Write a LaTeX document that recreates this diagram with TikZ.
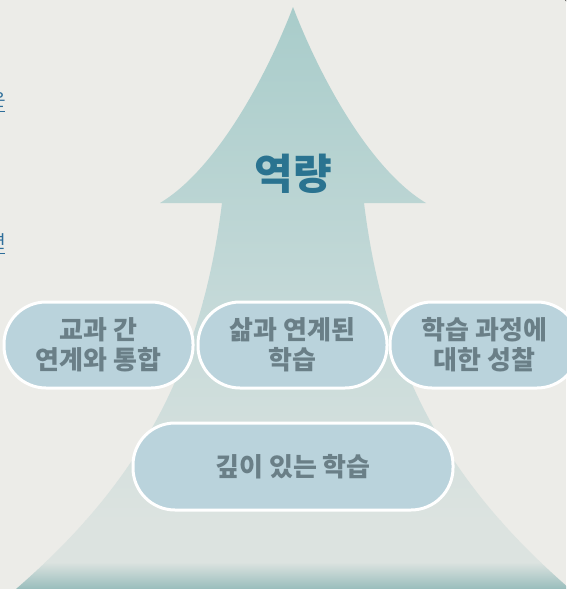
\documentclass[tikz,border=0pt]{standalone}
\usepackage{fontspec}
\setmainfont{Noto Sans CJK KR}
\definecolor{bgc}{HTML}{ECECE8}
\definecolor{ca}{HTML}{A8CCCA}
\definecolor{cb}{HTML}{C4D9D8}
\definecolor{cc}{HTML}{DCE3E0}
\definecolor{cd}{HTML}{99BDBC}
\definecolor{pillc}{HTML}{BAD3DC}
\definecolor{pilltext}{HTML}{6A7F87}
\definecolor{titlec}{HTML}{2A7390}
\definecolor{linkc}{HTML}{2E6E9A}
\begin{document}
\begin{tikzpicture}[x=1pt,y=-1pt,
  pill/.style={draw=white, line width=3pt, fill=pillc, rounded corners=42pt,
    minimum width=189pt, minimum height=86pt, text=pilltext, inner sep=0pt,
    font=\fontsize{26}{30}\selectfont\bfseries, align=center},
  frag/.style={text=linkc, font=\fontsize{18}{18}\selectfont, inner sep=0pt, anchor=base east}]
\useasboundingbox (0,0) rectangle (566,589);
\fill[bgc] (0,0) rectangle (566,589);
% arrow
\begin{scope}
\clip (293,7) .. controls (265,80) and (215,170) .. (160,203) -- (222,203)
  .. controls (200,380) and (130,490) .. (16,589) -- (570,589)
  .. controls (456,490) and (386,380) .. (364,203) -- (426,203)
  .. controls (371,170) and (321,80) .. (293,7) -- cycle;
\shade[top color=ca, bottom color=cb] (0,0) rectangle (566,301);
\shade[top color=cb, bottom color=cc] (0,300) rectangle (566,521);
\fill[cc] (0,520) rectangle (566,563);
\shade[top color=cc, bottom color=cd] (0,562) rectangle (566,589);
\end{scope}
% left fragments
\begin{scope}
\clip (0,0) rectangle (566,589);
\node[frag] (f1) at (6,106) {은};
\draw[linkc, line width=1pt] (-20,111) -- (5,111);
\node[frag] (f2) at (6,248) {면};
\draw[linkc, line width=1pt] (-20,253) -- (5,253);
\draw[black!85, line width=2.5pt] (578,-6) circle (13);
\end{scope}
% title
\node[text=titlec, font=\fontsize{42}{42}\selectfont\bfseries, inner sep=0pt] (t) at (293,174) {역량};
% pills
\node[pill] (p1) at (98.5,345) {교과 간\\연계와 통합};
\node[pill] (p2) at (292.5,345) {삶과 연계된\\학습};
\node[pill] (p3) at (484.5,345) {학습 과정에\\대한 성찰};
\node[pill, minimum width=320pt, minimum height=87pt] (p4) at (293,466.5) {깊이 있는 학습};
\end{tikzpicture}
\end{document}
